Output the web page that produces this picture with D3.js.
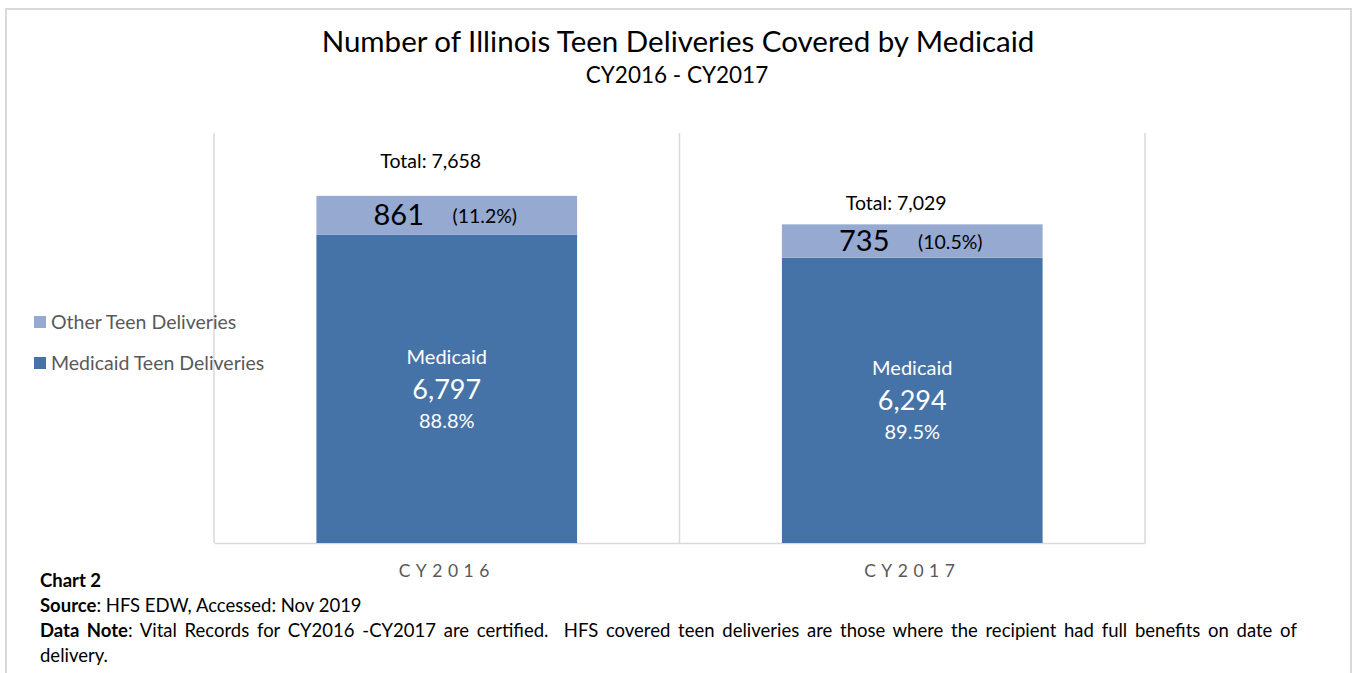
<!DOCTYPE html>
<html>
<head>
<meta charset="utf-8">
<script src="https://cdn.jsdelivr.net/npm/d3@7"></script>
<style>
  body { margin: 0; background: #fff; }
  svg { font-family: Lato, "Open Sans", sans-serif; }
</style>
</head>
<body>
<svg id="chart" width="1359" height="673"></svg>
<script>
// data
var years = ["CY2016", "CY2017"];
var medicaid = [6797, 6294];
var other = [861, 735];
var totals = [7658, 7029];
var medicaidPct = ["88.8%", "89.5%"];
var otherPct = ["(11.2%)", "(10.5%)"];
var legendLabels = ["Other Teen Deliveries", "Medicaid Teen Deliveries"];

var darkBlue = "#4673a7";
var lightBlue = "#95a9d1";
var grid = "#d9d9d9";

var svg = d3.select("#chart");

// outer frame
svg.append("path")
  .attr("d", "M6,680 L6,9 L1351,9 L1351,680")
  .attr("fill", "none")
  .attr("stroke", grid)
  .attr("stroke-width", 2);

svg.append("text")
  .attr("x", 678).attr("y", 52)
  .attr("text-anchor", "middle")
  .attr("font-size", 29.5)
  .attr("fill", "#000")
  .text("Number of Illinois Teen Deliveries Covered by Medicaid");

svg.append("text")
  .attr("x", 677).attr("y", 83)
  .attr("text-anchor", "middle")
  .attr("font-size", 22.5)
  .attr("fill", "#000")
  .text("CY2016 - CY2017");

var x = d3.scaleBand().domain(years).range([214, 1145]);
var y = d3.scaleLinear().domain([0, 9000]).range([543, 135]);
var barW = x.bandwidth() * 0.56;

// category gridlines
var g = svg.append("g");
var edges = [214].concat(years.map(function (d) { return x(d) + x.bandwidth(); }));
g.selectAll("line.grid").data(edges).join("line")
  .attr("class", "grid")
  .attr("x1", function (d) { return d; }).attr("x2", function (d) { return d; })
  .attr("y1", 133).attr("y2", 543)
  .attr("stroke", grid).attr("stroke-width", 1.5);

var axis = svg.append("g")
  .attr("transform", "translate(0,543)")
  .call(d3.axisBottom(x).tickSize(0).tickPadding(22));
axis.select(".domain").attr("stroke", grid).attr("stroke-width", 1.5);
axis.selectAll("text")
  .attr("font-family", "Lato, sans-serif")
  .attr("font-size", 17.5)
  .attr("letter-spacing", 5.5)
  .attr("fill", "#595959");

var bars = svg.append("g").selectAll("g").data(years).join("g");

bars.append("rect")
  .attr("x", function (d) { return x(d) + (x.bandwidth() - barW) / 2; })
  .attr("width", barW)
  .attr("y", function (d, i) { return y(medicaid[i]); })
  .attr("height", function (d, i) { return y(0) - y(medicaid[i]); })
  .attr("fill", darkBlue);

bars.append("rect")
  .attr("x", function (d) { return x(d) + (x.bandwidth() - barW) / 2; })
  .attr("width", barW)
  .attr("y", function (d, i) { return y(totals[i]); })
  .attr("height", function (d, i) { return y(medicaid[i]) - y(totals[i]); })
  .attr("fill", lightBlue);

function cx(d) { return x(d) + x.bandwidth() / 2; }

// total labels (gap above the bar differs per column in the original)
var totalGap = [28, 14];
bars.append("text")
  .attr("x", function (d) { return cx(d) - 16; })
  .attr("y", function (d, i) { return y(totals[i]) - totalGap[i]; })
  .attr("text-anchor", "middle")
  .attr("font-size", 19.5)
  .text(function (d, i) { return "Total: " + d3.format(",")(totals[i]); });

// other segment labels
bars.append("text")
  .attr("x", function (d) { return cx(d) - 48; })
  .attr("y", function (d, i) { return (y(totals[i]) + y(medicaid[i])) / 2 + 10; })
  .attr("text-anchor", "middle")
  .attr("font-size", 29)
  .text(function (d, i) { return other[i]; });
bars.append("text")
  .attr("x", function (d) { return cx(d) + 38; })
  .attr("y", function (d, i) { return (y(totals[i]) + y(medicaid[i])) / 2 + 8; })
  .attr("text-anchor", "middle")
  .attr("font-size", 19.5)
  .text(function (d, i) { return otherPct[i]; });

// medicaid segment labels
function mid(i) { return (y(medicaid[i]) + y(0)) / 2; }
bars.append("text")
  .attr("x", cx)
  .attr("y", function (d, i) { return mid(i) - 25; })
  .attr("text-anchor", "middle")
  .attr("font-size", 20).attr("fill", "#fff")
  .text("Medicaid");
bars.append("text")
  .attr("x", cx)
  .attr("y", function (d, i) { return mid(i) + 10; })
  .attr("text-anchor", "middle")
  .attr("font-size", 27).attr("fill", "#fff")
  .text(function (d, i) { return d3.format(",")(medicaid[i]); });
bars.append("text")
  .attr("x", cx)
  .attr("y", function (d, i) { return mid(i) + 39; })
  .attr("text-anchor", "middle")
  .attr("font-size", 20).attr("fill", "#fff")
  .text(function (d, i) { return medicaidPct[i]; });

// legend
var leg = svg.append("g").selectAll("g").data(legendLabels).join("g")
  .attr("transform", function (d, i) { return "translate(34," + (316 + i * 41) + ")"; });
leg.append("rect")
  .attr("width", 12).attr("height", 12)
  .attr("fill", function (d, i) { return i === 0 ? lightBlue : darkBlue; });
leg.append("text")
  .attr("x", 17).attr("y", 13)
  .attr("font-size", 19.5).attr("fill", "#595959")
  .text(function (d) { return d; });

// footer notes
var notes = svg.append("g").attr("font-size", 18.5).attr("fill", "#000");
notes.append("text").attr("x", 40).attr("y", 587)
  .attr("font-weight", "bold").text("Chart 2");
var s = notes.append("text").attr("x", 40).attr("y", 612);
s.append("tspan").attr("font-weight", "bold").text("Source");
s.append("tspan").text(": HFS EDW, Accessed: Nov 2019");
var n = notes.append("text").attr("x", 40).attr("y", 637)
  .attr("xml:space", "preserve").attr("word-spacing", 3);
n.append("tspan").attr("font-weight", "bold").text("Data Note");
n.append("tspan").text(": Vital Records for CY2016 -CY2017 are certified.  HFS covered teen deliveries are those where the recipient had full benefits on date of");
notes.append("text").attr("x", 40).attr("y", 662).text("delivery.");
</script>
</body>
</html>
